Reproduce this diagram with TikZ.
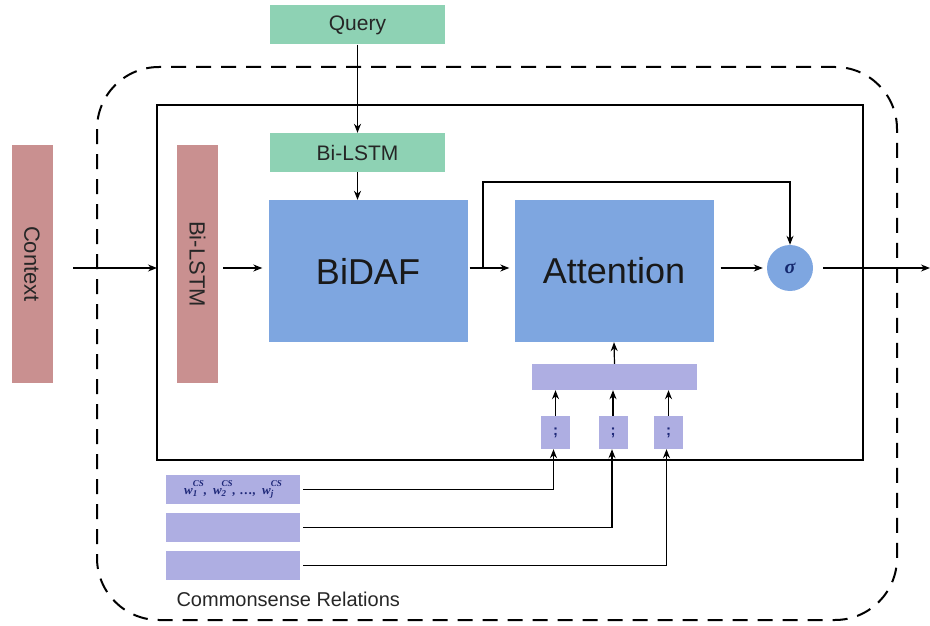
\documentclass[tikz,border=0pt]{standalone}
\usepackage{fontspec}
\setmainfont{Liberation Sans}
\newfontfamily\greekserif{Liberation Serif}
\usetikzlibrary{arrows.meta}
\definecolor{qgreen}{RGB}{142,210,180}
\definecolor{rose}{RGB}{201,144,144}
\definecolor{bblue}{RGB}{126,166,224}
\definecolor{lav}{RGB}{174,174,226}
\definecolor{sigblue}{RGB}{20,40,110}
\definecolor{wdark}{RGB}{30,40,120}
% a word vector symbol with stacked sub- and superscript
\newcommand{\csvec}[1]{w\rlap{\raisebox{-2.5pt}{\fontsize{9}{9}\selectfont #1}}\raisebox{8pt}{\fontsize{9}{9}\selectfont CS}}
\tikzset{
  greenbox/.style={fill=qgreen,draw=none,minimum width=175pt,minimum height=39pt,font=\fontsize{21}{21}\selectfont,text=black!85},
  rosebox/.style={fill=rose,draw=none,minimum width=238pt,minimum height=41pt,rotate=-90,font=\fontsize{22}{22}\selectfont,text=black!85},
  bigbox/.style={fill=bblue,draw=none,minimum width=199pt,minimum height=142pt,font=\fontsize{36}{36}\selectfont,text=black!90},
  lavbox/.style={fill=lav,draw=none},
  semibox/.style={fill=lav,draw=none,minimum width=29pt,minimum height=33pt,inner sep=0pt,font=\fontsize{15}{15}\selectfont\bfseries,text=wdark},
  relbox/.style={fill=lav,draw=none,minimum width=134pt,minimum height=29pt,inner sep=0pt},
  conn/.style={line width=1.2pt,-{Stealth[length=9pt,width=7pt]}}
}
\begin{document}
\begin{tikzpicture}[x=1pt,y=-1pt]
\useasboundingbox (0,0) rectangle (930,626);

% outer dashed region
\draw[line width=2pt,dash pattern=on 15pt off 10pt,rounded corners=62pt] (97,67) rectangle (897,620);
% inner model frame
\draw[line width=2.6pt] (157,105) rectangle (863,460);

% inputs
\node[greenbox] (query) at (357.5,25) {Query};
\node[greenbox] (qlstm) at (357.5,152.5) {Bi-LSTM};
\node[rosebox] (context) at (32,264) {Context};
\node[rosebox] (clstm) at (197.5,264) {Bi-LSTM};

% main blocks
\node[bigbox] (bidaf) at (368,271) {BiDAF};
\node[bigbox] (att) at (614,271) {Attention};
\node[circle,fill=bblue,minimum size=46pt,inner sep=0pt,font=\greekserif\fontsize{20}{20}\selectfont\bfseries\itshape,text=sigblue] (sig) at (790,268) {σ};

% knowledge fusion
\node[lavbox,minimum width=165pt,minimum height=26pt] (bar) at (614.5,377) {};
\node[semibox] (s1) at (555.5,432.5) {;};
\node[semibox] (s2) at (613,432.5) {;};
\node[semibox] (s3) at (668.5,432.5) {;};

% commonsense relation rows
\node[relbox,font=\greekserif\fontsize{13}{13}\selectfont\bfseries\itshape,text=wdark] (r1) at (233,489.5) {\raisebox{-3pt}{\csvec{1},\hspace{6pt}\csvec{2},\hspace{4pt}\ldots,\hspace{6pt}\csvec{j}}};
\node[relbox] (r2) at (233,527.5) {};
\node[relbox] (r3) at (233,565.5) {};
\node[anchor=west,font=\fontsize{20}{20}\selectfont,text=black!85] (cs) at (173,599) {Commonsense Relations};

% connectors
\coordinate (lane) at (0,268);
\coordinate (cin) at (73,268);
\coordinate (cout) at (930,268);
\coordinate (br) at (483,268);
\draw[conn] (query.south) -- (qlstm.south |- qlstm.north);
\draw[conn] (qlstm.south) -- (qlstm.south |- bidaf.north);
\draw[conn] (cin) -- (157,268);
\draw[conn] ([xshift=5pt,yshift=-4pt]clstm.north) -- ([xshift=-6pt]bidaf.west |- lane);
\draw[conn] ([xshift=2pt]bidaf.east |- lane) -- ([xshift=-5pt]att.west |- lane);
\draw[conn] (br) |- (790,182) -- (sig.north);
\draw[conn] ([xshift=7pt]att.east |- sig.west) -- ([xshift=-4pt]sig.west);
\draw[conn] ([xshift=10pt]sig.east) -- (cout);
\draw[conn] (bar.north) -- (att.south);
\draw[conn] (s1.north) -- (s1.north |- bar.south);
\draw[conn] (s2.north) -- (s2.north |- bar.south);
\draw[conn] (s3.north) -- (s3.north |- bar.south);
\draw[conn] ([xshift=3pt]r1.east) -| ([xshift=-2pt]s1.south);
\draw[conn] ([xshift=3pt]r2.east) -| ([xshift=-1pt]s2.south);
\draw[conn] ([xshift=3pt]r3.east) -| ([xshift=-2pt]s3.south);
\end{tikzpicture}
\end{document}
